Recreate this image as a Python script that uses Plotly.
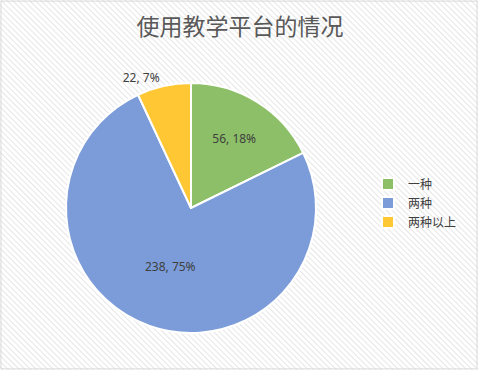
import base64
import plotly.graph_objects as go

categories = ["一种", "两种", "两种以上"]
values = [56, 238, 22]
colors = ["#8cbf67", "#7b9cd9", "#ffc733"]
text_positions = ["inside", "inside", "outside"]
title_text = "使用教学平台的情况"

W, H = 478, 370

# diagonal stripe background (like the original chart area fill)
svg = (
    f'<svg xmlns="http://www.w3.org/2000/svg" width="{W}" height="{H}">'
    '<defs><pattern id="p" width="4" height="4" patternUnits="userSpaceOnUse" '
    'patternTransform="rotate(-45)"><rect width="4" height="4" fill="#ffffff"/>'
    '<line x1="0" y1="0" x2="0" y2="4" stroke="#e0e0e0" stroke-width="1.6"/></pattern></defs>'
    f'<rect width="{W}" height="{H}" fill="url(#p)"/></svg>'
)
bg_uri = "data:image/svg+xml;base64," + base64.b64encode(svg.encode()).decode()

cx, cy, r = 191, 208, 125

fig = go.Figure(
    go.Pie(
        labels=categories,
        values=values,
        sort=False,
        direction="clockwise",
        rotation=0,
        marker=dict(colors=colors, line=dict(color="white", width=2)),
        texttemplate="%{value}, %{percent:.0%}",
        textposition=text_positions,
        insidetextorientation="horizontal",
        textfont=dict(family="Noto Sans, Noto Sans CJK SC", size=12, color="#404040"),
        outsidetextfont=dict(family="Noto Sans, Noto Sans CJK SC", size=12, color="#404040"),
        domain=dict(x=[(cx - r) / W, (cx + r) / W], y=[(H - cy - r) / H, (H - cy + r) / H]),
        hoverinfo="label+value+percent",
    )
)

fig.update_layout(
    width=W,
    height=H,
    margin=dict(l=0, r=0, t=0, b=0),
    paper_bgcolor="white",
    plot_bgcolor="rgba(0,0,0,0)",
    title=dict(
        text=title_text,
        x=240 / W,
        xanchor="center",
        y=1 - 27 / H,
        yanchor="middle",
        font=dict(family="Noto Sans CJK SC", size=23, color="#595959"),
    ),
    legend=dict(
        x=368 / W,
        y=(H - 203) / H,
        xanchor="left",
        yanchor="middle",
        font=dict(family="Noto Sans CJK SC", size=12, color="#404040"),
        bgcolor="rgba(0,0,0,0)",
        itemwidth=30,
    ),
    images=[
        dict(
            source=bg_uri,
            xref="paper",
            yref="paper",
            x=0,
            y=1,
            sizex=1,
            sizey=1,
            sizing="stretch",
            layer="below",
        )
    ],
    shapes=[
        dict(
            type="rect",
            xref="paper",
            yref="paper",
            x0=0.002,
            y0=0.003,
            x1=0.998,
            y1=0.997,
            line=dict(color="#d9d9d9", width=1),
            fillcolor="rgba(0,0,0,0)",
        )
    ],
)

fig.write_html(
    "out.html",
    config={"displayModeBar": False},
    post_script="document.body.style.margin='0';document.body.style.padding='0';",
)
